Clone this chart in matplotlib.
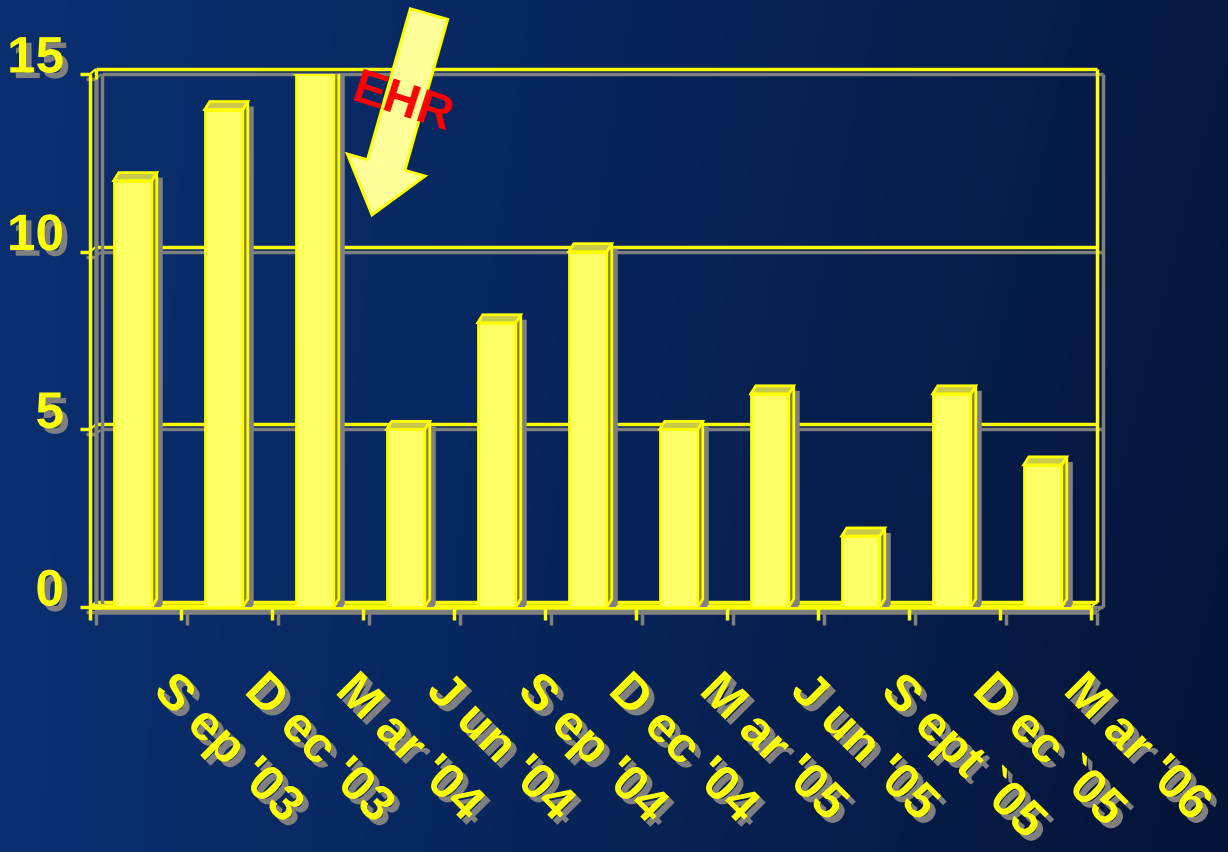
import numpy as np
import matplotlib.pyplot as plt
import matplotlib.patheffects as pe
from matplotlib.patches import Polygon, FancyArrow
from matplotlib.transforms import offset_copy

# quarterly counts
periods = ["S ep '03", "D ec '03", "M ar '04", "J un '04", "S ep '04", "D ec '04",
           "M ar '05", "J un '05", "S ept `05", "D ec `05", "M ar '06"]
counts = [12, 14, 15, 5, 8, 10, 5, 6, 2, 6, 4]
yticks = [0, 5, 10, 15]

YELLOW = '#ffff00'
FACE = '#ffff66'
TOP = '#c9c94c'
SIDE = '#85853a'
GREY = '#808080'
FONT = ['Liberation Sans', 'DejaVu Sans']

W, H = 1228, 852
fig = plt.figure(figsize=(W / 100, H / 100), dpi=100)

# blue gradient backdrop, darker towards the right
bg = fig.add_axes([0, 0, 1, 1], zorder=-10)
gx, gy = np.meshgrid(np.linspace(0, 1, 300), np.linspace(0, 1, 300))
t = np.clip(0.8 * gx ** 1.3 + 0.2 * gy * gx, 0, 1)
c0 = np.array([0x0a, 0x2e, 0x6e]) / 255
c1 = np.array([0x04, 0x13, 0x36]) / 255
bg.imshow(c0 + (c1 - c0) * t[..., None], extent=[0, 1, 0, 1], aspect='auto', origin='upper')
bg.axis('off')

ax = fig.add_axes([90 / W, 1 - 607 / H, (1091 - 90) / W, (607 - 74) / H])
ax.set_xlim(0, len(counts))
ax.set_ylim(0, 15)
ax.axis('off')
ax.patch.set_alpha(0)

ux = ax.bbox.width / len(counts)   # pixels per category
uy = ax.bbox.height / 15           # pixels per unit

shadow_tr = offset_copy(ax.transData, fig, x=6, y=-5, units='dots')
line_fx = [pe.SimpleLineShadow(offset=(4, -3.6), shadow_color=GREY, alpha=1), pe.Normal()]
text_fx = [pe.withSimplePatchShadow(offset=(4, -4), shadow_rgbFace=GREY, alpha=1)]

# wall depth
wx, wy = 6 / ux, 5 / uy
n = len(counts)

def frame_line(xs, ys, lw=2.5):
    ax.plot(xs, ys, color=YELLOW, lw=lw, solid_capstyle='butt', clip_on=False,
            zorder=2, path_effects=line_fx)

for y in yticks:
    frame_line([wx, n + wx], [y + wy, y + wy])
    frame_line([0, wx], [y, y + wy], lw=1.5)
    # tick marks on the front edge
    frame_line([-10 / ux, 0], [y, y], lw=2.5)
frame_line([wx, wx], [wy, 15 + wy])
frame_line([n + wx, n + wx], [wy, 15 + wy])
frame_line([0, 0], [0, 15])
frame_line([0, n], [0, 0], lw=4)
frame_line([n, n + wx], [0, wy], lw=1.5)
for k in range(n + 1):
    frame_line([k, k], [0, -13 / uy], lw=2.5)

# bars with top and side faces
bw = 38 / ux
bdx, bdy = 5 / ux, 8 / uy
centers = np.arange(n) + 0.47
bars = ax.bar(centers, counts, width=bw, color=FACE, edgecolor=YELLOW, lw=2, zorder=5)
for b, v in zip(bars, counts):
    x0 = b.get_x()
    x1 = x0 + b.get_width()
    sil = [(x0, 0), (x1, 0), (x1 + bdx, bdy), (x1 + bdx, v + bdy), (x0 + bdx, v + bdy), (x0, v)]
    ax.add_patch(Polygon(sil, closed=True, transform=shadow_tr, facecolor=GREY,
                         edgecolor='none', zorder=4))
    ax.add_patch(Polygon([(x1, 0), (x1 + bdx, bdy), (x1 + bdx, v + bdy), (x1, v)],
                         closed=True, facecolor=SIDE, edgecolor=YELLOW, lw=2, zorder=5))
    ax.add_patch(Polygon([(x0, v), (x1, v), (x1 + bdx, v + bdy), (x0 + bdx, v + bdy)],
                         closed=True, facecolor=TOP, edgecolor=YELLOW, lw=2, zorder=5))

# value axis labels, lifted a little above their gridlines
for y in yticks:
    ax.text(-26 / ux, y, str(y), transform=offset_copy(ax.transData, fig, x=0, y=15, units='dots'),
            ha='right', va='center', fontsize=37, fontweight='bold', family=FONT,
            color=YELLOW, path_effects=text_fx, clip_on=False)

# slanted period labels
label_tr = offset_copy(ax.transData, fig, x=42, y=-60, units='dots')
for i, lab in enumerate(periods):
    ax.text(i + 0.5, 0, lab, transform=label_tr, rotation=-45, rotation_mode='anchor',
            ha='left', va='top', fontsize=36, fontweight='bold', family=FONT,
            color=YELLOW, path_effects=text_fx, clip_on=False)

# EHR call-out arrow in pixel space
ov = fig.add_axes([0, 0, 1, 1], zorder=10)
ov.set_xlim(0, W)
ov.set_ylim(H, 0)
ov.axis('off')
ov.patch.set_alpha(0)
ov.add_patch(FancyArrow(429, 14, -57, 201, width=39, head_width=81, head_length=52,
                        length_includes_head=True, facecolor='#ffff99', edgecolor=YELLOW, lw=2))
ov.text(402, 104, 'EHR', rotation=-18, ha='center', va='center', fontsize=35,
        fontweight='bold', family=FONT, color='#ff0000')

fig.savefig('out.png', dpi=100)
